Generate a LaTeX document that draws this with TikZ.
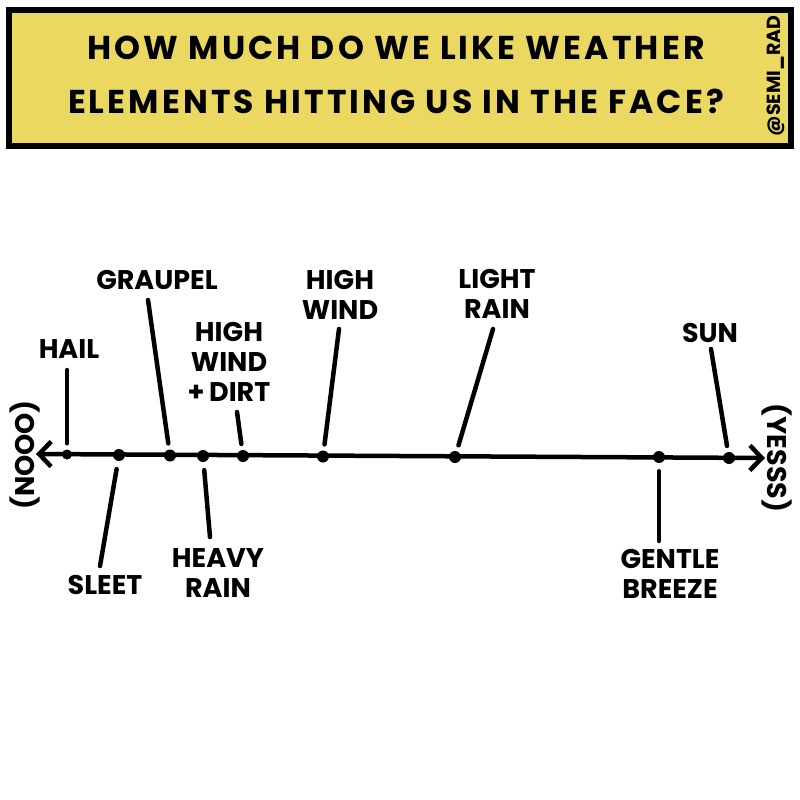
\documentclass[tikz,border=0pt]{standalone}
\usepackage{fontspec}
\setmainfont{Poppins}
\usetikzlibrary{arrows.meta}
\definecolor{titleyellow}{RGB}{234,216,96}

\begin{document}
\begin{tikzpicture}[x=1pt,y=-1pt,
        every node/.style = {align=center, inner sep=0pt,
            font=\bfseries\fontsize{27}{30}\selectfont},
        lead/.style = {line width=4.5pt, line cap=round},
        dot/.style = {circle, fill=black, minimum size=12pt},
        axis/.style = {line width=4.5pt, line cap=round,
            {Straight Barb[length=12pt,width=25pt]}-{Straight Barb[length=12pt,width=25pt]}}]
    \useasboundingbox (0,0) rectangle (800,800);
    \draw[line width=5.5pt, fill=titleyellow] (9,10) rectangle (791,146);
    \node[font=\bfseries\fontsize{33}{54}\selectfont\addfontfeatures{LetterSpace=9.5}] (title) at (396,75)
        {HOW MUCH DO WE LIKE WEATHER\\ELEMENTS HITTING US IN THE FACE?};
    \node[rotate=90, font=\bfseries\fontsize{19}{19}\selectfont] (credit) at (776,76) {@SEMI\_RAD};

    \coordinate (noend) at (36,454);
    \coordinate (yesend) at (765,458);
    \draw[axis] (noend) -- (yesend);
    \node[rotate=90] (nooo) at (25,455) {(NOOO)};
    \node[rotate=-90] (yesss) at (777,458) {(YESSS)};

    \node[dot, minimum size=10pt] (d-hail) at (67,454.5) {};
    \node[dot] (d-sleet) at (119,455) {};
    \node[dot] (d-graupel) at (170,455.5) {};
    \node[dot] (d-heavy) at (203,456) {};
    \node[dot] (d-dirt) at (243,456) {};
    \node[dot] (d-wind) at (323,456.5) {};
    \node[dot] (d-light) at (455,457) {};
    \node[dot] (d-breeze) at (659,457) {};
    \node[dot] (d-sun) at (729,458) {};

    \node (hail) at (69,349) {HAIL};
    \node (graupel) at (157,280) {GRAUPEL};
    \node (winddirt) at (229,362) {HIGH\\WIND\\+\,DIRT};
    \node (wind) at (340,295) {HIGH\\WIND};
    \node (lightrain) at (497,294) {LIGHT\\RAIN};
    \node (sun) at (710,333) {SUN};
    \node (sleet) at (105,585) {SLEET};
    \node (heavyrain) at (218,573) {HEAVY\\RAIN};
    \node (breeze) at (670,574) {GENTLE\\BREEZE};

    \coordinate (t-hail) at (67,370);
    \coordinate (t-graupel) at (148,300);
    \coordinate (t-dirt) at (237,412);
    \coordinate (t-wind) at (339,329);
    \coordinate (t-light) at (493,329);
    \coordinate (t-sun) at (711,349);
    \coordinate (b-sleet) at (100,566);
    \coordinate (b-heavy) at (210,537);
    \coordinate (b-breeze) at (659,541);

    \draw[lead, shorten >=6pt] (t-hail) -- (d-hail);
    \draw[lead, shorten >=6pt] (t-graupel) -- (d-graupel);
    \draw[lead, shorten >=6pt] (t-dirt) -- (d-dirt);
    \draw[lead, shorten >=6pt] (t-wind) -- (d-wind);
    \draw[lead, shorten >=6pt] (t-light) -- (d-light);
    \draw[lead, shorten >=6pt] (t-sun) -- (d-sun);
    \draw[lead, shorten <=8pt] (d-sleet) -- (b-sleet);
    \draw[lead, shorten <=8pt] (d-heavy) -- (b-heavy);
    \draw[lead, shorten <=8pt] (d-breeze) -- (b-breeze);
\end{tikzpicture}
\end{document}
